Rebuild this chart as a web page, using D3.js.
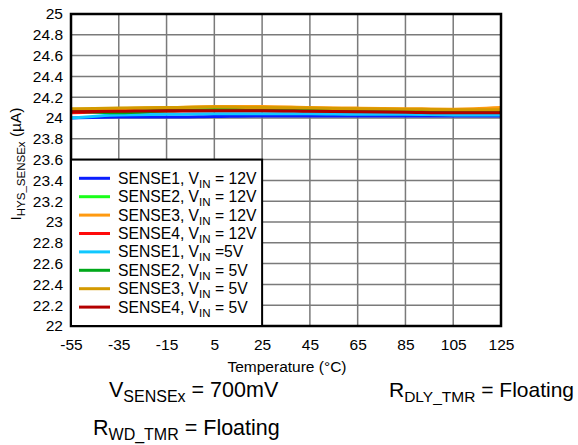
<!DOCTYPE html>
<html><head><meta charset="utf-8">
<script src="https://cdn.jsdelivr.net/npm/d3@7/dist/d3.min.js"></script>
<style>body{margin:0;background:#fff}svg{display:block;font-family:"Liberation Sans",Arial,sans-serif}</style>
</head><body><svg id="c" width="578" height="445"></svg>
<script>
const temps = [-55,-35,-15,5,25,45,65,85,105,125];
const sense1_12V = [24.00,24.01,24.01,24.015,24.02,24.02,24.02,24.02,24.02,24.02];
const sense2_12V = [24.07,24.07,24.075,24.08,24.08,24.08,24.075,24.07,24.065,24.065];
const sense3_12V = [24.08,24.09,24.10,24.11,24.11,24.10,24.095,24.09,24.085,24.10];
const sense4_12V = [24.05,24.06,24.065,24.07,24.07,24.065,24.06,24.055,24.05,24.05];
const sense1_5V = [24.00,24.03,24.035,24.04,24.04,24.04,24.035,24.035,24.03,24.03];
const sense2_5V = [24.07,24.05,24.07,24.08,24.085,24.08,24.075,24.07,24.065,24.065];
const sense3_5V = [24.09,24.095,24.10,24.105,24.10,24.095,24.09,24.085,24.08,24.08];
const sense4_5V = [24.06,24.065,24.07,24.07,24.07,24.065,24.06,24.055,24.05,24.05];
const xTicks = [-55,-35,-15,5,25,45,65,85,105,125];
const yTicks = [22,22.2,22.4,22.6,22.8,23,23.2,23.4,23.6,23.8,24,24.2,24.4,24.6,24.8,25];

const series = [
  {name:"SENSE1, ", sub:"IN", tail:" = 12V", color:"#0a1eff", v:sense1_12V},
  {name:"SENSE2, ", sub:"IN", tail:" = 12V", color:"#1aff1a", v:sense2_12V},
  {name:"SENSE3, ", sub:"IN", tail:" = 12V", color:"#ff9a10", v:sense3_12V},
  {name:"SENSE4, ", sub:"IN", tail:" = 12V", color:"#ff0a0a", v:sense4_12V},
  {name:"SENSE1, ", sub:"IN", tail:" =5V", color:"#10c8ff", v:sense1_5V},
  {name:"SENSE2, ", sub:"IN", tail:" = 5V", color:"#00a81a", v:sense2_5V},
  {name:"SENSE3, ", sub:"IN", tail:" = 5V", color:"#d49a00", v:sense3_5V},
  {name:"SENSE4, ", sub:"IN", tail:" = 5V", color:"#b40000", v:sense4_5V}
];

const L=71, R=501, T=14, B=326;
const svg = d3.select("#c");
const x = d3.scaleLinear().domain([-55,125]).range([L,R]);
const y = d3.scaleLinear().domain([22,25]).range([B,T]);

// grid
const g = svg.append("g");
g.selectAll(".vg").data(xTicks).join("line")
  .attr("x1",d=>x(d)).attr("x2",d=>x(d)).attr("y1",T).attr("y2",B)
  .attr("stroke","#7a7a7a").attr("stroke-width",1.5);
g.selectAll(".hg").data(yTicks).join("line")
  .attr("x1",L).attr("x2",R).attr("y1",d=>y(d)).attr("y2",d=>y(d))
  .attr("stroke","#7a7a7a").attr("stroke-width",1.5);

// lines
const line = d3.line().x((d,i)=>x(temps[i])).y(d=>y(d)).curve(d3.curveMonotoneX);
svg.append("g").selectAll("path").data(series).join("path")
  .attr("d",d=>line(d.v)).attr("fill","none").attr("stroke",d=>d.color).attr("stroke-width",3);

// frame
svg.append("rect").attr("x",L).attr("y",T).attr("width",R-L).attr("height",B-T)
  .attr("fill","none").attr("stroke","#000").attr("stroke-width",2.5);

// axes labels
const FS = 15.5;
const yAxis = d3.axisLeft(y).tickValues(yTicks).tickSize(0).tickPadding(8).tickFormat(d=>String(d));
const ya = svg.append("g").attr("transform",`translate(${L},0)`).call(yAxis);
ya.select(".domain").remove();
ya.selectAll("text").attr("font-size",FS).attr("fill","#000").attr("font-family","Liberation Sans, Arial, sans-serif");
const xAxis = d3.axisBottom(x).tickValues(xTicks).tickSize(0).tickPadding(13).tickFormat(d=>String(d));
const xa = svg.append("g").attr("transform",`translate(0,${B})`).call(xAxis);
xa.select(".domain").remove();
xa.selectAll("text").attr("font-size",FS).attr("fill","#000").attr("font-family","Liberation Sans, Arial, sans-serif");

svg.append("text").attr("x",(L+R)/2 + 1).attr("y",372).attr("text-anchor","middle")
  .attr("font-size",FS).text("Temperature (°C)");

// y title
const yt = svg.append("text").attr("transform","translate(21,164) rotate(-90)").attr("text-anchor","middle").attr("font-size",FS);
yt.append("tspan").text("I");
yt.append("tspan").attr("font-size",11.5).attr("dy",4).text("HYS_SENSEx");
yt.append("tspan").attr("dy",-4).text(" (µA)");

// legend
const lx=71, ly=y(23.6), lw=x(25)-71, lh=B-y(23.6);
svg.append("rect").attr("x",lx).attr("y",ly).attr("width",lw).attr("height",lh)
  .attr("fill","#fff").attr("stroke","#000").attr("stroke-width",2);
const lg = svg.append("g").selectAll("g").data(series).join("g")
  .attr("transform",(d,i)=>`translate(0,${178.3+i*18.4})`);
lg.append("line").attr("x1",79).attr("x2",110).attr("y1",0).attr("y2",0)
  .attr("stroke",d=>d.color).attr("stroke-width",3);
const lt = lg.append("text").attr("x",118).attr("y",5.5).attr("font-size",15.7);
lt.append("tspan").text(d=>d.name+"V");
lt.append("tspan").attr("font-size",11.5).attr("dy",4).text(d=>d.sub);
lt.append("tspan").attr("dy",-4).text(d=>d.tail);

// conditions
function cond(xp, yp, main, sub, rest, fs, ss){
  const t = svg.append("text").attr("x",xp).attr("y",yp).attr("font-size",fs);
  t.append("tspan").text(main);
  t.append("tspan").attr("font-size",ss).attr("dy",5).text(sub);
  t.append("tspan").attr("dy",-5).text(rest);
}
cond(109,397,"V","SENSEx"," = 700mV",21.5,16);
cond(389,397,"R","DLY_TMR"," = Floating",21,15.5);
cond(93,435,"R","WD_TMR"," = Floating",21.5,16);
</script></body></html>
